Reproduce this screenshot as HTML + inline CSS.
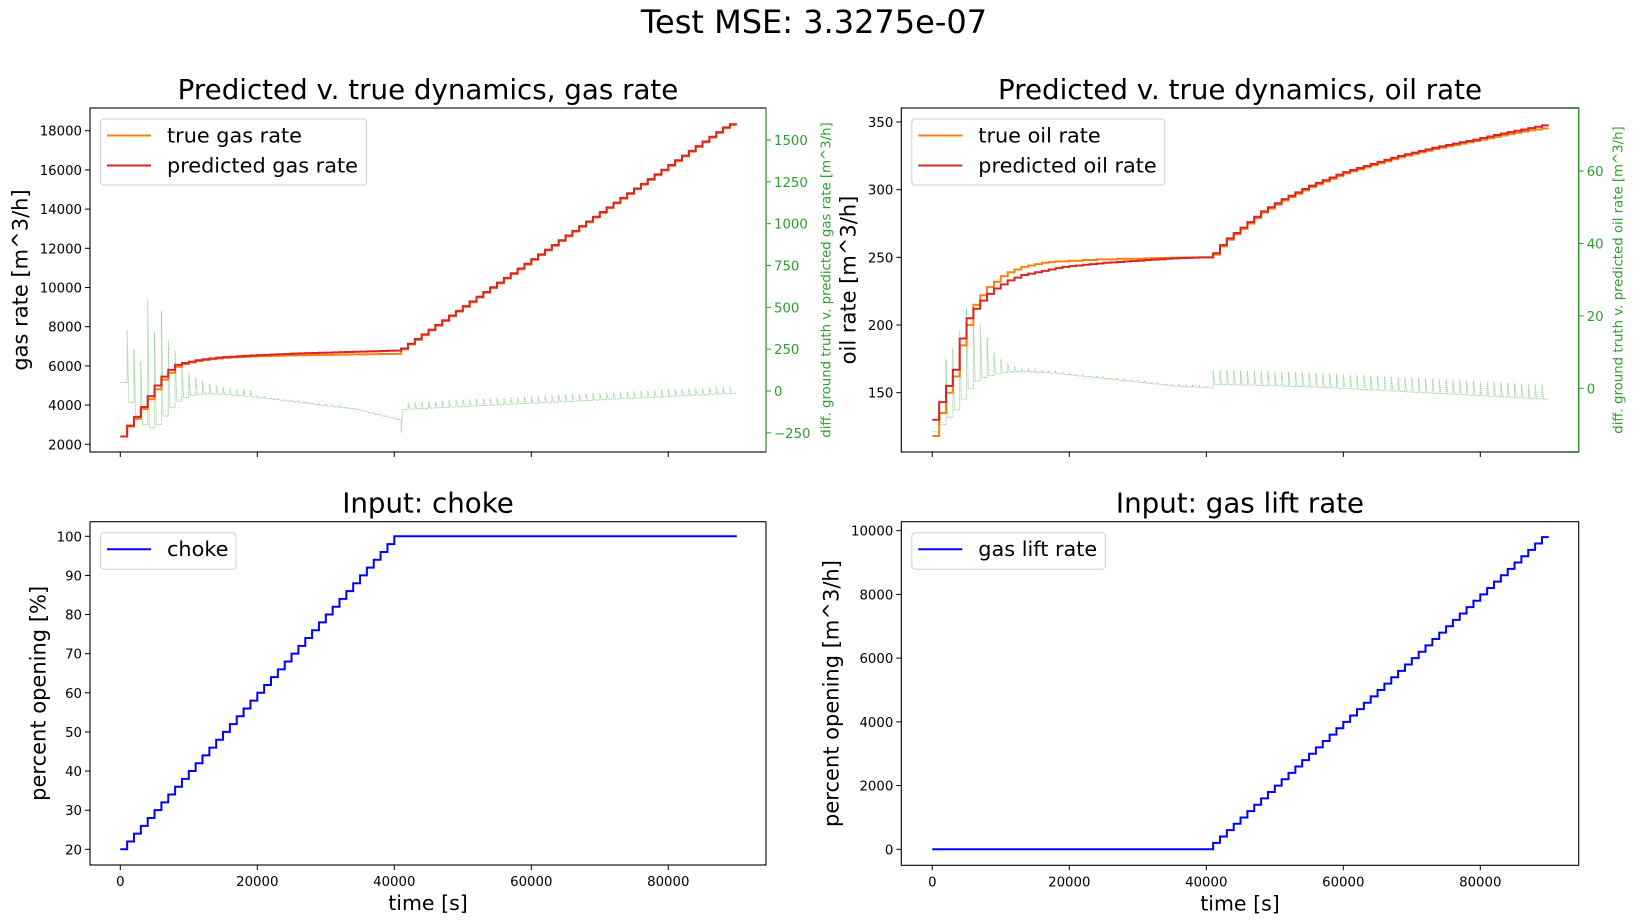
<!DOCTYPE html>
<html><head><meta charset="utf-8"><style>
html,body{margin:0;padding:0;background:#fff;}
svg{display:block;font-family:"DejaVu Sans","Liberation Sans",sans-serif;}
</style></head><body>
<svg id="fig" width="1634" height="924" viewBox="0 0 1634 924" xmlns="http://www.w3.org/2000/svg">
<text x="814" y="33" font-size="32" text-anchor="middle" fill="#000">Test MSE: 3.3275e-07</text>
</svg>
<script>
// ---- data (one value per 1000 s step, t = i*1000) ----
const stepSeconds = 1000;
const chokeValues = [20,22,24,26,28,30,32,34,36,38,40,42,44,46,48,50,52,54,56,58,60,62,64,66,68,70,72,74,76,78,80,82,84,86,88,90,92,94,96,98,100,100,100,100,100,100,100,100,100,100,100,100,100,100,100,100,100,100,100,100,100,100,100,100,100,100,100,100,100,100,100,100,100,100,100,100,100,100,100,100,100,100,100,100,100,100,100,100,100,100];
const gasLiftValues = [0,0,0,0,0,0,0,0,0,0,0,0,0,0,0,0,0,0,0,0,0,0,0,0,0,0,0,0,0,0,0,0,0,0,0,0,0,0,0,0,0,200,400,600,800,1000,1200,1400,1600,1800,2000,2200,2400,2600,2800,3000,3200,3400,3600,3800,4000,4200,4400,4600,4800,5000,5200,5400,5600,5800,6000,6200,6400,6600,6800,7000,7200,7400,7600,7800,8000,8200,8400,8600,8800,9000,9200,9400,9600,9800];
const gasTrue = [2400,2900,3300,3800,4300,4800,5300,5650,5950,6100,6180,6250,6300,6340,6380,6410,6430,6450,6470,6480,6490,6500,6510,6520,6530,6540,6545,6550,6555,6560,6565,6570,6575,6580,6585,6590,6595,6600,6605,6610,6615,6850,7090,7330,7570,7810,8050,8290,8530,8770,9010,9250,9490,9730,9970,10210,10450,10690,10930,11170,11410,11650,11890,12130,12370,12610,12850,13090,13330,13570,13810,14050,14290,14530,14770,15010,15250,15490,15730,15970,16210,16450,16690,16930,17170,17410,17650,17890,18130,18300];
const gasPred = [2400,2950,3400,3900,4450,5000,5450,5800,6050,6150,6220,6290,6340,6380,6420,6450,6470,6490,6510,6530,6550,6565,6580,6595,6610,6625,6640,6650,6660,6670,6680,6690,6700,6710,6720,6730,6740,6750,6760,6770,6780,6890,7130,7370,7610,7850,8090,8330,8570,8810,9050,9290,9530,9770,10010,10250,10490,10730,10970,11210,11450,11690,11930,12170,12410,12650,12890,13130,13370,13610,13850,14090,14330,14570,14810,15050,15290,15530,15770,16010,16250,16490,16730,16970,17210,17450,17690,17930,18170,18330];
const gasDiffBase = [50,-70,-150,-200,-220,-200,-150,-100,-60,-40,-25,-20,-18,-18,-20,-22,-25,-28,-32,-36,-40,-45,-50,-55,-60,-65,-70,-75,-80,-85,-90,-95,-100,-105,-110,-120,-130,-140,-150,-160,-170,-110,-108,-106,-104,-102,-100,-98,-96,-94,-92,-90,-88,-86,-84,-82,-80,-78,-76,-74,-72,-70,-68,-66,-64,-62,-60,-58,-56,-54,-52,-50,-48,-46,-44,-42,-40,-38,-36,-34,-32,-30,-28,-26,-24,-22,-20,-18,-16,-14];
const gasDiffPeak = [50,365,250,180,550,350,480,300,240,150,110,80,60,45,35,25,18,12,8,4,-30,-35,-40,-45,-50,-55,-60,-65,-70,-75,-80,-85,-90,-95,-100,-110,-120,-130,-140,-150,-160,-250,-68,-66,-64,-62,-60,-58,-56,-54,-52,-50,-48,-46,-44,-42,-40,-38,-36,-34,-32,-30,-28,-26,-24,-22,-20,-18,-16,-14,-12,-10,-8,-6,-4,-2,0,2,4,6,8,10,12,14,16,18,20,22,24,26];
const oilTrue = [118,135,150,162,185,200,215,222,228,232,236,239,241,243,244,245,246,246.5,247,247,247.5,247.5,248,248,248.5,248.5,248.5,249,249,249,249,249.2,249.4,249.5,249.6,249.7,249.8,249.9,250,250,250,252,258,263,267,271,275,279,283,286,289,292,294.5,297,299.5,302,304,306,308,310,312,313.5,315,316.5,318,319.5,321,322.5,324,325.2,326.4,327.6,328.8,330,331,332,333,334,335,336,337,338,339,340,341,342,343,343.8,344.5,345.2];
const oilPred = [130,143,155,167,190,205,212,218,223,227,230,233,235,237,238,239,240,241,242,243,243.5,244,244.5,245,245.5,246,246.3,246.6,247,247.3,247.6,248,248.3,248.6,249,249.2,249.4,249.6,249.8,250,250,253,259,264,268,272,276,280,284,287,290,293,295.5,298,300.5,303,305,307,309,311,313,314.5,316,317.5,319,320.5,322,323.5,325,326.2,327.4,328.6,329.8,331,332,333,334,335,336,337,338.2,339.3,340.4,341.5,342.5,343.5,344.5,345.5,346.5,347.5];
const oilDiffBase = [-12,-10,-8,-6,-3,0,2,3,3.5,4,4.3,4.5,4.6,4.6,4.5,4.4,4.3,4.2,4,3.8,3.6,3.4,3.2,3,2.8,2.6,2.4,2.2,2,1.8,1.6,1.4,1.2,1,0.8,0.6,0.5,0.4,0.3,0.2,0.1,1,1,1,1,0.9,0.9,0.8,0.8,0.7,0.7,0.6,0.5,0.5,0.4,0.3,0.3,0.2,0.1,0,-0.1,-0.2,-0.3,-0.4,-0.5,-0.6,-0.7,-0.8,-0.9,-1,-1.1,-1.2,-1.3,-1.4,-1.5,-1.6,-1.7,-1.8,-1.9,-2,-2.1,-2.2,-2.3,-2.4,-2.5,-2.6,-2.7,-2.8,-2.9,-3];
const oilDiffPeak = [-12,-3,8,11,16,22,20,18,14,10,8,7,6,5.5,5.5,5.2,5,4.8,4.6,4.4,4.1,3.9,3.7,3.5,3.3,3.1,2.9,2.7,2.5,2.3,2.1,1.9,1.7,1.5,1.3,1.1,1,0.9,0.8,0.7,0.6,5,5,5,5,4.9,4.9,4.8,4.8,4.7,4.7,4.6,4.5,4.5,4.4,4.3,4.3,4.2,4.1,4,3.9,3.8,3.7,3.6,3.5,3.4,3.3,3.2,3.1,3,2.9,2.8,2.7,2.6,2.5,2.4,2.3,2.2,2.1,2,1.9,1.8,1.7,1.6,1.5,1.4,1.3,1.2,1.1,1];
const xTicks = [0,20000,40000,60000,80000];
const gasTicks = [2000,4000,6000,8000,10000,12000,14000,16000,18000];
const gasDiffTicks = [-250,0,250,500,750,1000,1250,1500];
const oilTicks = [150,200,250,300,350];
const oilDiffTicks = [0,20,40,60];
const chokeTicks = [20,30,40,50,60,70,80,90,100];
const liftTicks = [0,2000,4000,6000,8000,10000];

const NS = "http://www.w3.org/2000/svg";
const svg = document.getElementById('fig');
function mk(tag, attrs, parent){
  const e = document.createElementNS(NS, tag);
  for (const k in attrs) e.setAttribute(k, attrs[k]);
  (parent||svg).appendChild(e);
  return e;
}
function lin(d0,d1,r0,r1){return v => r0 + (v-d0)*(r1-r0)/(d1-d0);}

function panel(o){
  const g = mk('g', {});
  
  
  const X = lin(0, 20000, o.x0px, o.x0px+137);
  const Y = lin(o.yA, o.yB, o.yApx, o.yBpx);
  const fr = mk('rect', {x:o.L, y:o.T, width:o.R-o.L, height:o.B-o.T, fill:'none', stroke:'#000', 'stroke-width':1.1}, g);
  
  
  xTicks.forEach(t => {
    const px = X(t);
    mk('line', {x1:px, x2:px, y1:o.B, y2:o.B+5, stroke:'#000', 'stroke-width':1}, g);
    if (o.xLabels){
      const tx = mk('text', {x:px, y:o.B+21, 'font-size':13.3, 'text-anchor':'middle'}, g);
      tx.textContent = t;
      
      
    }
  });
  o.yTicks.forEach(t => {
    const py = Y(t);
    mk('line', {x1:o.L-5, x2:o.L, y1:py, y2:py, stroke:'#000', 'stroke-width':1}, g);
    const tx = mk('text', {x:o.L-8, y:py+5, 'font-size':13.3, 'text-anchor':'end'}, g);
    tx.textContent = t;
    
    
  });
  const ti = mk('text', {x:(o.L+o.R)/2, y:o.T-9, 'font-size':27.7, 'text-anchor':'middle'}, g);
  ti.textContent = o.title;
  
  
  const yl = mk('text', {x:o.ylx, y:(o.T+o.B)/2, 'font-size':21, 'text-anchor':'middle', transform:`rotate(-90 ${o.ylx} ${(o.T+o.B)/2})`, dy:'0.35em'}, g);
  yl.textContent = o.ylabel;
  
  
  if (o.xLabels){
    const xl = mk('text', {x:(o.L+o.R)/2, y:o.B+45, 'font-size':20.5, 'text-anchor':'middle'}, g);
    xl.textContent = 'time [s]';
    
    
  }
  let Y2 = null;
  if (o.diff){
    Y2 = lin(o.diff.a, o.diff.b, o.diff.apx, o.diff.bpx);
    mk('line', {x1:o.R, x2:o.R, y1:o.T, y2:o.B, stroke:'#2ca02c', 'stroke-width':1.2}, g);
    o.diff.ticks.forEach(t => {
      const py = Y2(t);
      mk('line', {x1:o.R, x2:o.R+5, y1:py, y2:py, stroke:'#2ca02c', 'stroke-width':1}, g);
      const tx = mk('text', {x:o.R+8, y:py+5, 'font-size':13.3, fill:'#2ca02c'}, g);
      tx.textContent = t < 0 ? '\u2212' + Math.abs(t) : t;
      
      
    });
    const lx = o.diff.labelX, ly = (o.T+o.B)/2;
    const dl = mk('text', {x:lx, y:ly, 'font-size':13.3, fill:'#2ca02c', 'text-anchor':'middle', dy:'0.35em', transform:`rotate(-90 ${lx} ${ly})`}, g);
    dl.textContent = o.diff.label;
    
    
    let d = '';
    const base = o.diff.base, peak = o.diff.peak;
    for (let i=0;i<base.length;i++){
      const t0 = i*stepSeconds, t1 = (i+1)*stepSeconds;
      const x0 = X(t0), xm = X(t0+250), x1 = X(t1);
      if (i===0) d += `M${x0},${Y2(peak[i])}`;
      else d += `L${x0},${Y2(peak[i])}`;
      d += `L${xm},${Y2(base[i])}L${x1},${Y2(base[i])}`;
    }
    const p = mk('path', {d, fill:'none', stroke:'#2ca02c', 'stroke-width':0.9, 'stroke-opacity':0.55, 'stroke-dasharray':'1.2,0.8'}, g);
    
    
  }
  o.series.forEach(s => {
    let d = '';
    s.values.forEach((v,i) => {
      const x0 = X(i*stepSeconds), x1 = X((i+1)*stepSeconds);
      d += (i===0 ? 'M' : 'L') + x0 + ',' + Y(v) + 'L' + x1 + ',' + Y(v);
    });
    const p = mk('path', {d, fill:'none', stroke:s.color, 'stroke-width':2, 'stroke-linejoin':'miter'}, g);
    
    
  });
  const lg = mk('g', {}, g);
  
  
  const lh = o.series.length === 2 ? 66 : 36.5;
  mk('rect', {x:o.L+10.5, y:o.T+11, width:o.legendW, height:lh, rx:3.5, fill:'#fff', 'fill-opacity':0.85, stroke:'#d0d0d0', 'stroke-width':1}, lg);
  o.series.forEach((s,k) => {
    const cy = o.T+27.5+k*30;
    const li = mk('line', {x1:o.L+17, x2:o.L+61, y1:cy, y2:cy, stroke:s.color, 'stroke-width':2}, lg);
    
    
    const tx = mk('text', {x:o.L+77, y:cy+7, 'font-size':20.8}, lg);
    tx.textContent = s.label;
    
    
  });
}

panel({name:'gas-rate-panel', L:90, R:766, T:108, B:452, x0px:120.3, yA:2000, yB:18000, yApx:444.3, yBpx:130.7,
  yTicks:gasTicks, title:'Predicted v. true dynamics, gas rate', ylabel:'gas rate [m^3/h]', ylx:20, xLabels:false, legendW:266,
  diff:{a:0,b:1500,apx:391,bpx:140,ticks:gasDiffTicks,label:'diff. ground truth v. predicted gas rate [m^3/h]',labelX:826,base:gasDiffBase,peak:gasDiffPeak},
  series:[{values:gasTrue,color:'#ff7f0e',label:'true gas rate',name:'true-gas-rate-line'},{values:gasPred,color:'#d62728',label:'predicted gas rate',name:'predicted-gas-rate-line'}]});

panel({name:'oil-rate-panel', L:901.3, R:1578.7, T:108, B:452, x0px:932.3, yA:150, yB:350, yApx:392.7, yBpx:122,
  yTicks:oilTicks, title:'Predicted v. true dynamics, oil rate', ylabel:'oil rate [m^3/h]', ylx:848, xLabels:false, legendW:253,
  diff:{a:0,b:60,apx:388.3,bpx:171,ticks:oilDiffTicks,label:'diff. ground truth v. predicted oil rate [m^3/h]',labelX:1618,base:oilDiffBase,peak:oilDiffPeak},
  series:[{values:oilTrue,color:'#ff7f0e',label:'true oil rate',name:'true-oil-rate-line'},{values:oilPred,color:'#d62728',label:'predicted oil rate',name:'predicted-oil-rate-line'}]});

panel({name:'choke-panel', L:90, R:766, T:521.7, B:865, x0px:120.3, yA:20, yB:100, yApx:849.3, yBpx:536.3,
  yTicks:chokeTicks, title:'Input: choke', ylabel:'percent opening [%]', ylx:38, xLabels:true, legendW:135.5,
  series:[{values:chokeValues,color:'#0000ff',label:'choke',name:'choke-line'}]});

panel({name:'gas-lift-panel', L:901.3, R:1578.7, T:521.7, B:865.3, x0px:932.3, yA:0, yB:10000, yApx:849.3, yBpx:530.7,
  yTicks:liftTicks, title:'Input: gas lift rate', ylabel:'percent opening [m^3/h]', ylx:831, xLabels:true, legendW:193.5,
  series:[{values:gasLiftValues,color:'#0000ff',label:'gas lift rate',name:'gas-lift-rate-line'}]});
</script>
</body></html>
